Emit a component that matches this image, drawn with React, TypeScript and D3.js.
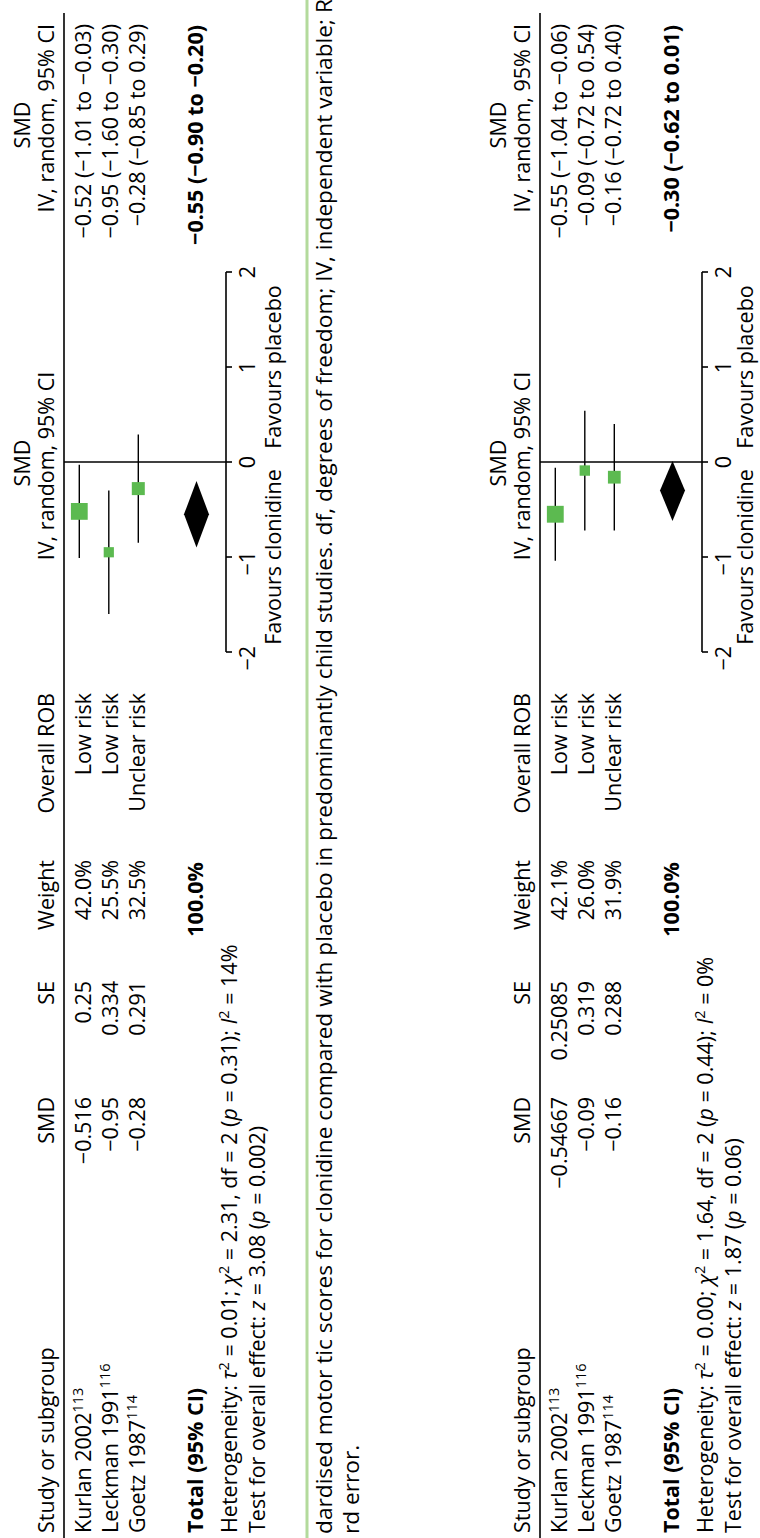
import React from 'react';
import * as d3 from 'd3';

// ---------- data ----------
const studyNames = ['Kurlan 2002', 'Leckman 1991', 'Goetz 1987'];
const studyRefs = ['113', '116', '114'];
const robLabels = ['Low risk', 'Low risk', 'Unclear risk'];

const smdA = [-0.516, -0.95, -0.28];
const seA = [0.25, 0.334, 0.291];
const weightA = [42.0, 25.5, 32.5];
const estA = [-0.52, -0.95, -0.28];
const lowA = [-1.01, -1.6, -0.85];
const highA = [-0.03, -0.3, 0.29];
const totalA = [-0.55, -0.9, -0.2];
const hetA = ['0.01', '2.31', '2', '0.31', '14', '3.08', '0.002'];

const smdB = [-0.54667, -0.09, -0.16];
const seB = [0.25085, 0.319, 0.288];
const weightB = [42.1, 26.0, 31.9];
const estB = [-0.55, -0.09, -0.16];
const lowB = [-1.04, -0.72, -0.72];
const highB = [-0.06, 0.54, 0.4];
const totalB = [-0.3, -0.62, 0.01];
const hetB = ['0.00', '1.64', '2', '0.44', '0', '1.87', '0.06'];

const axisDomain = [-2, 2];
const favourLabels = ['Favours clonidine', 'Favours placebo'];
const captionLines = [
  'dardised motor tic scores for clonidine compared with placebo in predominantly child studies. df, degrees of freedom; IV, independent variable; R',
  'rd error.',
];

// ---------- style ----------
const FONT = "'Open Sans', 'Noto Sans', sans-serif";
const FS = 21.5;
const CAP_FS = 22.7;
const SUP = 14.5;
const GREEN = '#5cba50';
const EQ = ' = ';

const minus = (v: number) => String(v).replace('-', '\u2212');
const f2 = d3.format('.2f');
const f1 = d3.format('.1f');

type PanelProps = {
  off: number;
  favY: number;
  smd: number[];
  se: number[];
  weight: number[];
  est: number[];
  low: number[];
  high: number[];
  total: number[];
  het: string[];
};

function Panel({ off, favY, smd, se, weight, est, low, high, total, het }: PanelProps) {
  const x = d3.scaleLinear().domain(axisDomain).range([886, 1266]);
  const textRow = d3.scalePoint<string>().domain(studyNames).range([90.5, 145]);
  const plotRow = d3.scalePoint<string>().domain(studyNames).range([79.3, 138.3]);
  const size = d3.scaleLinear().domain([0, 100]).range([0, 40]);
  const ticks = x.ticks(4);
  const axisY = 226;
  const totalTextY = 203;
  const totalPlotY = 196.5;
  const dh = 12.5;
  const col = { study: 5, smd: 441, se: 557, weight: 678, rob: 845, ci: 1514 };

  const diamond = d3.line()([
    [x(total[1]), totalPlotY],
    [x(total[0]), totalPlotY - dh],
    [x(total[2]), totalPlotY],
    [x(total[0]), totalPlotY + dh],
  ]) + 'Z';

  return (
    <g transform={`translate(0,${off})`} fontFamily={FONT} fontSize={FS} fill="#000">
      {/* header */}
      <text x={x(0) - 1} y={30} textAnchor="middle">SMD</text>
      <text x={1413} y={30} textAnchor="middle">SMD</text>
      <text x={col.study} y={53.5}>Study or subgroup</text>
      <text x={col.smd} y={53.5} textAnchor="end">SMD</text>
      <text x={col.se} y={53.5} textAnchor="end">SE</text>
      <text x={col.weight} y={53.5} textAnchor="end">Weight</text>
      <text x={col.rob} y={53.5} textAnchor="end">Overall ROB</text>
      <text x={x(0) - 4} y={53.5} textAnchor="middle">IV, random, 95% CI</text>
      <text x={col.ci} y={53.5} textAnchor="end">IV, random, 95% CI</text>
      <line x1={0} x2={1525} y1={64} y2={64} stroke="#000" strokeWidth={1.6} />

      {/* study rows */}
      {studyNames.map((s, i) => (
        <g key={s}>
          <text x={col.study} y={textRow(s)}>
            {s}
            <tspan fontSize={SUP} dy={-8}>{studyRefs[i]}</tspan>
          </text>
          <text x={col.smd} y={textRow(s)} textAnchor="end">{minus(smd[i])}</text>
          <text x={col.se} y={textRow(s)} textAnchor="end">{String(se[i])}</text>
          <text x={col.weight} y={textRow(s)} textAnchor="end">{f1(weight[i])}%</text>
          <text x={col.rob} y={textRow(s)} textAnchor="end">{robLabels[i]}</text>
          <text x={col.ci} y={textRow(s)} textAnchor="end">
            {`${f2(est[i])} (${f2(low[i])} to ${f2(high[i])})`}
          </text>
        </g>
      ))}

      {/* total row */}
      <text x={col.study} y={totalTextY} fontWeight="bold">Total (95% CI)</text>
      <text x={col.weight - 2} y={totalTextY} fontWeight="bold" textAnchor="end">100.0%</text>
      <text x={col.ci - 1} y={totalTextY} fontWeight="bold" textAnchor="end">
        {`${f2(total[0])} (${f2(total[1])} to ${f2(total[2])})`}
      </text>

      {/* heterogeneity */}
      <text x={col.study} y={237} xmlSpace="preserve">
        Heterogeneity: <tspan fontStyle="italic">τ</tspan>
        <tspan fontSize={SUP} dy={-8}>2</tspan>
        <tspan dy={8}>{`${EQ}${het[0]}; `}</tspan>
        <tspan fontStyle="italic">χ</tspan>
        <tspan fontSize={SUP} dy={-8}>2</tspan>
        <tspan dy={8}>{`${EQ}${het[1]}, df${EQ}${het[2]} (`}</tspan>
        <tspan fontStyle="italic">p</tspan>
        <tspan>{`${EQ}${het[3]}); `}</tspan>
        <tspan fontStyle="italic">I</tspan>
        <tspan fontSize={SUP} dy={-8}>2</tspan>
        <tspan dy={8}>{`${EQ}${het[4]}%`}</tspan>
      </text>
      <text x={col.study} y={265} xmlSpace="preserve">
        Test for overall effect: <tspan fontStyle="italic">z</tspan>
        <tspan>{`${EQ}${het[5]} (`}</tspan>
        <tspan fontStyle="italic">p</tspan>
        <tspan>{`${EQ}${het[6]})`}</tspan>
      </text>

      {/* plot */}
      <line x1={x(0)} x2={x(0)} y1={64} y2={axisY} stroke="#000" strokeWidth={1.4} />
      {studyNames.map((s, i) => {
        const w = size(weight[i]);
        return (
          <g key={'p' + s}>
            <line x1={x(low[i])} x2={x(high[i])} y1={plotRow(s)} y2={plotRow(s)} stroke="#000" strokeWidth={1.4} />
            <rect x={x(est[i]) - w / 2} y={(plotRow(s) as number) - w / 2} width={w} height={w} fill={GREEN} />
          </g>
        );
      })}
      <path d={diamond} fill="#000" />

      {/* axis */}
      <line x1={x(axisDomain[0])} x2={x(axisDomain[1])} y1={axisY} y2={axisY} stroke="#000" strokeWidth={1.6} />
      {ticks.map((t) => (
        <g key={'t' + t}>
          <line x1={x(t)} x2={x(t)} y1={axisY} y2={axisY + 6} stroke="#000" strokeWidth={1.6} />
          <text x={x(t) + 6} y={255} textAnchor="end">{x.tickFormat(4, 'd')(t)}</text>
        </g>
      ))}
      <text x={(x(-2) + x(0)) / 2} y={favY} textAnchor="middle">{favourLabels[0]}</text>
      <text x={(x(0) + x(2)) / 2} y={favY} textAnchor="middle">{favourLabels[1]}</text>
    </g>
  );
}

export default function App() {
  return (
    <svg
      width={760}
      height={1538}
      style={{ position: 'absolute', left: 0, top: 0, display: 'block', background: '#fff' }}
    >
      <rect width={760} height={1538} fill="#fff" />
      <g transform="translate(0,1538) rotate(-90)">
        <Panel off={0} favY={281} smd={smdA} se={seA} weight={weightA} est={estA} low={lowA} high={highA} total={totalA} het={hetA} />
        <line x1={0} x2={1538} y1={307} y2={307} stroke="#b3da9c" strokeWidth={3} />
        <g fontFamily={FONT} fontSize={CAP_FS}>
          <text x={4} y={332}>{captionLines[0]}</text>
          <text x={4} y={359}>{captionLines[1]}</text>
        </g>
        <Panel off={476} favY={277} smd={smdB} se={seB} weight={weightB} est={estB} low={lowB} high={highB} total={totalB} het={hetB} />
      </g>
    </svg>
  );
}
